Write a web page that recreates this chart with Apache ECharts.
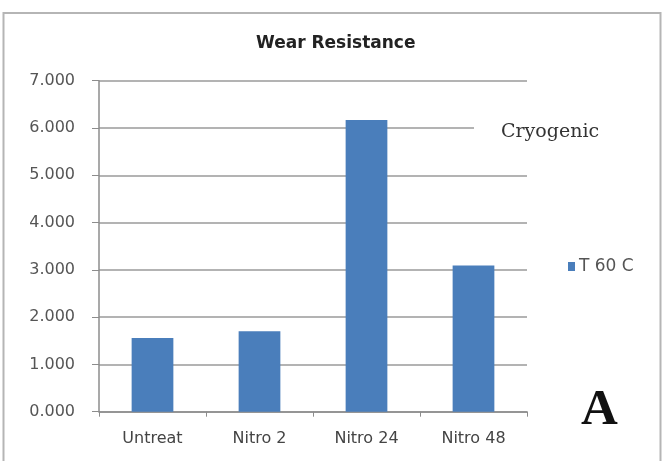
<!DOCTYPE html>
<html>
<head>
<meta charset="utf-8">
<script src="https://cdn.jsdelivr.net/npm/echarts@6/dist/echarts.min.js"></script>
<style>
  html, body { margin: 0; padding: 0; background: #ffffff; }
  #chart { width: 665px; height: 461px; }
</style>
</head>
<body>
<div id="chart"></div>
<script>
// Wear resistance by treatment
const categories = ['Untreat', 'Nitro 2', 'Nitro 24', 'Nitro 48'];
const seriesName = 'T 60 C';
const wearValues = [1.56, 1.70, 6.17, 3.09];
const yTicks = [0, 1, 2, 3, 4, 5, 6, 7];

const chart = echarts.init(document.getElementById('chart'), null, { renderer: 'canvas' });

chart.setOption({
  backgroundColor: '#ffffff',
  animation: false,
  title: {
    text: 'Wear Resistance',
    left: 251,
    top: 30,
    textStyle: {
      fontFamily: '"DejaVu Sans", sans-serif',
      fontWeight: 'bold',
      fontSize: 17,
      color: '#222222'
    }
  },
  legend: {
    data: [seriesName],
    left: 563,
    top: 253,
    icon: 'rect',
    itemWidth: 7,
    itemHeight: 9,
    itemGap: 4,
    textStyle: {
      fontFamily: '"DejaVu Sans", sans-serif',
      fontSize: 17,
      color: '#555555',
      padding: [0, 0, 0, -1]
    }
  },
  grid: {
    left: 99,
    right: 138,
    top: 80.7,
    bottom: 49.3,
    containLabel: false
  },
  xAxis: {
    type: 'category',
    data: categories,
    axisLine: { lineStyle: { color: '#8c8c8c', width: 1.5 } },
    axisTick: { show: true, length: 5, lineStyle: { color: '#8c8c8c' } },
    axisLabel: {
      margin: 19,
      fontFamily: '"DejaVu Sans", sans-serif',
      fontSize: 16,
      color: '#444444'
    }
  },
  yAxis: {
    type: 'value',
    min: yTicks[0],
    max: yTicks[yTicks.length - 1],
    interval: 1,
    axisLine: { show: true, lineStyle: { color: '#8c8c8c', width: 1.5 } },
    axisTick: { show: true, length: 7, lineStyle: { color: '#8c8c8c' } },
    axisLabel: {
      margin: 24,
      fontFamily: '"DejaVu Sans", sans-serif',
      fontSize: 16,
      color: '#555555',
      formatter: v => v.toFixed(3)
    },
    splitLine: { show: true, lineStyle: { color: '#9a9a9a', width: 1.5 } }
  },
  series: [{
    name: seriesName,
    type: 'bar',
    data: wearValues,
    barWidth: '39%',
    itemStyle: { color: '#4a7ebb' }
  }],
  graphic: [
    {
      type: 'rect',
      z: -1,
      shape: { x: 3.5, y: 13, width: 657, height: 460 },
      style: { fill: 'none', stroke: '#b5b5b5', lineWidth: 2 }
    },
    {
      type: 'rect',
      z: 10,
      shape: { x: 474, y: 116, width: 140, height: 30 },
      style: { fill: '#ffffff' }
    },
    {
      type: 'text',
      z: 11,
      left: 501,
      top: 123,
      style: {
        text: 'Cryogenic',
        font: '19px "DejaVu Serif", serif',
        fill: '#333333'
      }
    },
    {
      type: 'text',
      z: 11,
      left: 581,
      top: 385,
      style: {
        text: 'A',
        font: 'bold 51px "Liberation Serif", serif',
        fill: '#111111'
      }
    }
  ]
});
</script>
</body>
</html>
